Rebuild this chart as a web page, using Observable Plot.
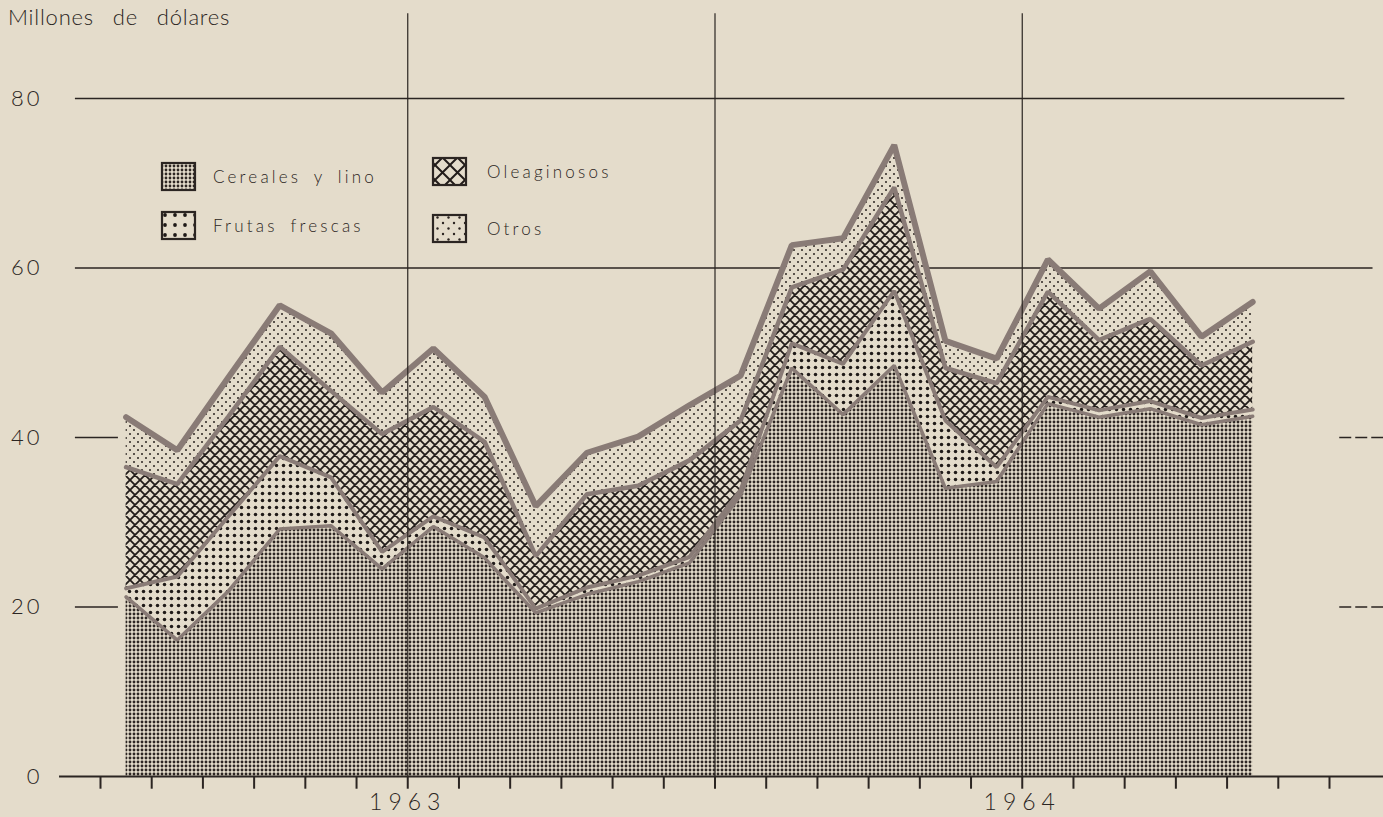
<!DOCTYPE html>
<html><head><meta charset="utf-8">
<script src="https://cdn.jsdelivr.net/npm/d3@7"></script>
<script src="https://cdn.jsdelivr.net/npm/@observablehq/plot@0.6"></script>
<style>
html,body{margin:0;padding:0;background:#e4dccb;}
svg{display:block}
</style></head><body><div id="chart"></div>
<script>
// Meses (enero 1963 - noviembre 1964)
const meses = ["1963-01","1963-02","1963-03","1963-04","1963-05","1963-06","1963-07","1963-08","1963-09","1963-10","1963-11","1963-12",
               "1964-01","1964-02","1964-03","1964-04","1964-05","1964-06","1964-07","1964-08","1964-09","1964-10","1964-11"];
// Millones de dólares
const cereales    = [21.2,16.1,21.9,29.2,29.6,24.5,29.5,25.8,19.3,21.5,23.0,25.2,33.2,48.2,42.7,48.5,34.0,34.8,44.0,42.4,43.4,41.5,42.5];
const frutas      = [1.0,7.5,8.8,8.6,5.7,2.0,1.2,2.4,0.5,0.8,0.7,0.7,0.6,2.9,6.0,8.8,8.0,1.7,0.8,0.8,0.9,0.8,0.8];
const oleaginosos = [14.3,10.9,11.8,12.9,10.2,13.9,12.9,11.3,6.2,11.0,10.6,11.4,8.2,6.6,11.1,12.2,6.2,9.9,12.4,8.3,9.7,6.2,8.0];
const otros       = [5.9,4.0,4.6,4.9,6.8,4.9,6.9,5.3,5.9,4.9,5.8,6.5,5.3,5.0,3.7,5.0,3.2,2.9,3.8,3.7,5.6,3.4,4.7];
const yTicks = [0,20,40,60,80];
const years = ["1963","1964"];
const seriesNames = ["Cereales y lino","Frutas frescas","Oleaginosos","Otros"];

const BG = "#e4dccb", INK = "#2b2522", LINE = "#897b76";
const FONT = "Lato, 'Open Sans', sans-serif";
const series = [cereales, frutas, oleaginosos, otros];
const patIds = ["pCer","pFru","pOle","pOtr"];
const lineW = [3.5, 4, 4.5, 6];

// stacked rows (month index -> mid-month position)
const rows = [];
const cum = meses.map(() => 0);
series.forEach((s, k) => {
  meses.forEach((m, i) => {
    const [yy, mm] = m.split("-").map(Number);
    const xm = (yy - 1963) * 12 + (mm - 1) + 0.5;
    rows.push({serie: seriesNames[k], k, x: xm, y1: cum[i], y2: cum[i] + s[i]});
    cum[i] += s[i];
  });
});
const monthTicks = d3.range(0, 25);
const halfYears = [6, 12, 18];

const marks = [
  Plot.ruleY([80], {x1: -0.49, x2: 24.3, stroke: INK, strokeWidth: 1.3}),
  Plot.ruleY([60], {x1: -0.49, x2: 24.85, stroke: INK, strokeWidth: 1.3}),
  Plot.ruleY([20, 40], {x1: -0.49, x2: 0.35, stroke: INK, strokeWidth: 1.3}),
  Plot.ruleY([20, 40], {x1: 24.2, x2: 25.1, stroke: INK, strokeWidth: 1.3, strokeDasharray: "12,4"}),
];
series.forEach((s, k) => {
  marks.push(Plot.areaY(rows.filter(d => d.k === k), {x: "x", y1: "y1", y2: "y2", fill: `url(#${patIds[k]})`}));
});
series.forEach((s, k) => {
  marks.push(Plot.lineY(rows.filter(d => d.k === k), {x: "x", y: "y2", stroke: LINE, strokeWidth: lineW[k], strokeLinejoin: "miter"}));
});
marks.push(
  Plot.ruleX(halfYears, {y1: 0, y2: 90, stroke: INK, strokeWidth: 1.2}),
  Plot.ruleY([0], {x1: -0.8, x2: 25.1, stroke: INK, strokeWidth: 2}),
  Plot.ruleX(monthTicks, {y1: 0, y2: -1.5, stroke: INK, strokeWidth: 2}),
  Plot.text(years, {x: (d, i) => i * 12 + 6, y: 0, dy: 26, text: d => d, fontSize: 23, fill: INK, textAnchor: "middle", className: "yr"}),
  Plot.text(yTicks, {x: 0, y: d => d, text: d => String(d), dx: -58, textAnchor: "end", fontSize: 22, fill: INK})
);

const chart = Plot.plot({
  width: 1383, height: 817,
  marginLeft: 100, marginRight: 54, marginTop: 98, marginBottom: 41,
  x: {domain: [0, 24], axis: null},
  y: {domain: [0, 80], axis: null},
  style: {background: "transparent", fontFamily: FONT, overflow: "visible"},
  marks
});
document.getElementById("chart").appendChild(chart);

const svg = d3.select(chart);
svg.selectAll("text").style("letter-spacing", "3px").attr("font-weight", 300);
svg.selectAll(".yr text").style("letter-spacing", "6px");
const defs = svg.insert("defs", ":first-child");
function dots(id, size, pts, r, col) {
  const p = defs.append("pattern").attr("id", id).attr("patternUnits", "userSpaceOnUse").attr("width", size).attr("height", size);
  p.append("rect").attr("width", size).attr("height", size).attr("fill", BG);
  pts.forEach(([cx, cy]) => p.append("circle").attr("cx", cx).attr("cy", cy).attr("r", r).attr("fill", col));
}
function hatch(id, s, w) {
  const p = defs.append("pattern").attr("id", id).attr("patternUnits", "userSpaceOnUse").attr("width", s).attr("height", s);
  p.append("rect").attr("width", s).attr("height", s).attr("fill", BG);
  const e = 2;
  p.append("path").attr("d",
    `M${-e},${-e}L${s+e},${s+e}M${s+e},${-e}L${-e},${s+e}` +
    `M${-e},${s-e}L${e},${s+e}M${s-e},${-e}L${s+e},${e}M${-e},${e}L${e},${-e}M${s-e},${s+e}L${s+e},${s-e}`)
    .attr("stroke", "#221c1a").attr("stroke-width", w).attr("fill", "none");
}
dots("pCer", 4, [[2, 2]], 1.45, "#2d2623");
dots("pFru", 7, [[3.5, 3.5]], 1.75, "#1f1a18");
hatch("pOle", 10, 1.8);
dots("pOtr", 8, [[2, 2], [6, 6]], 1.0, "#2a2320");
dots("pCerL", 4, [[2, 2]], 1.4, "#2d2623");
dots("pFruL", 10, [[5, 5]], 1.9, "#1f1a18");
hatch("pOleL", 15, 2);
dots("pOtrL", 11, [[3, 3], [8.5, 8.5]], 1.2, "#2a2320");

// title
svg.append("text").attr("x", 8).attr("y", 25).text("Millones de dólares")
  .attr("text-anchor", "start").attr("font-weight", 300)
  .attr("font-family", FONT).attr("font-size", 22).attr("fill", INK)
  .style("word-spacing", "12px").style("letter-spacing", "0.8px");

// legend
const legend = [
  {name: seriesNames[0], pat: "pCerL", x: 162, y: 163},
  {name: seriesNames[1], pat: "pFruL", x: 162, y: 212},
  {name: seriesNames[2], pat: "pOleL", x: 433, y: 158},
  {name: seriesNames[3], pat: "pOtrL", x: 433, y: 215}
];
const lg = svg.append("g");
legend.forEach(l => {
  lg.append("rect").attr("x", l.x).attr("y", l.y).attr("width", 33).attr("height", 27)
    .attr("fill", `url(#${l.pat})`).attr("stroke", INK).attr("stroke-width", 2.2);
  lg.append("text").attr("x", l.x + (l.x < 300 ? 51 : 54)).attr("y", l.y + 20).text(l.name)
    .attr("text-anchor", "start").attr("font-weight", 300)
    .attr("font-family", FONT).attr("font-size", 17).attr("fill", INK)
    .style("letter-spacing", "3.2px").style("word-spacing", "5px");
});
</script></body></html>
